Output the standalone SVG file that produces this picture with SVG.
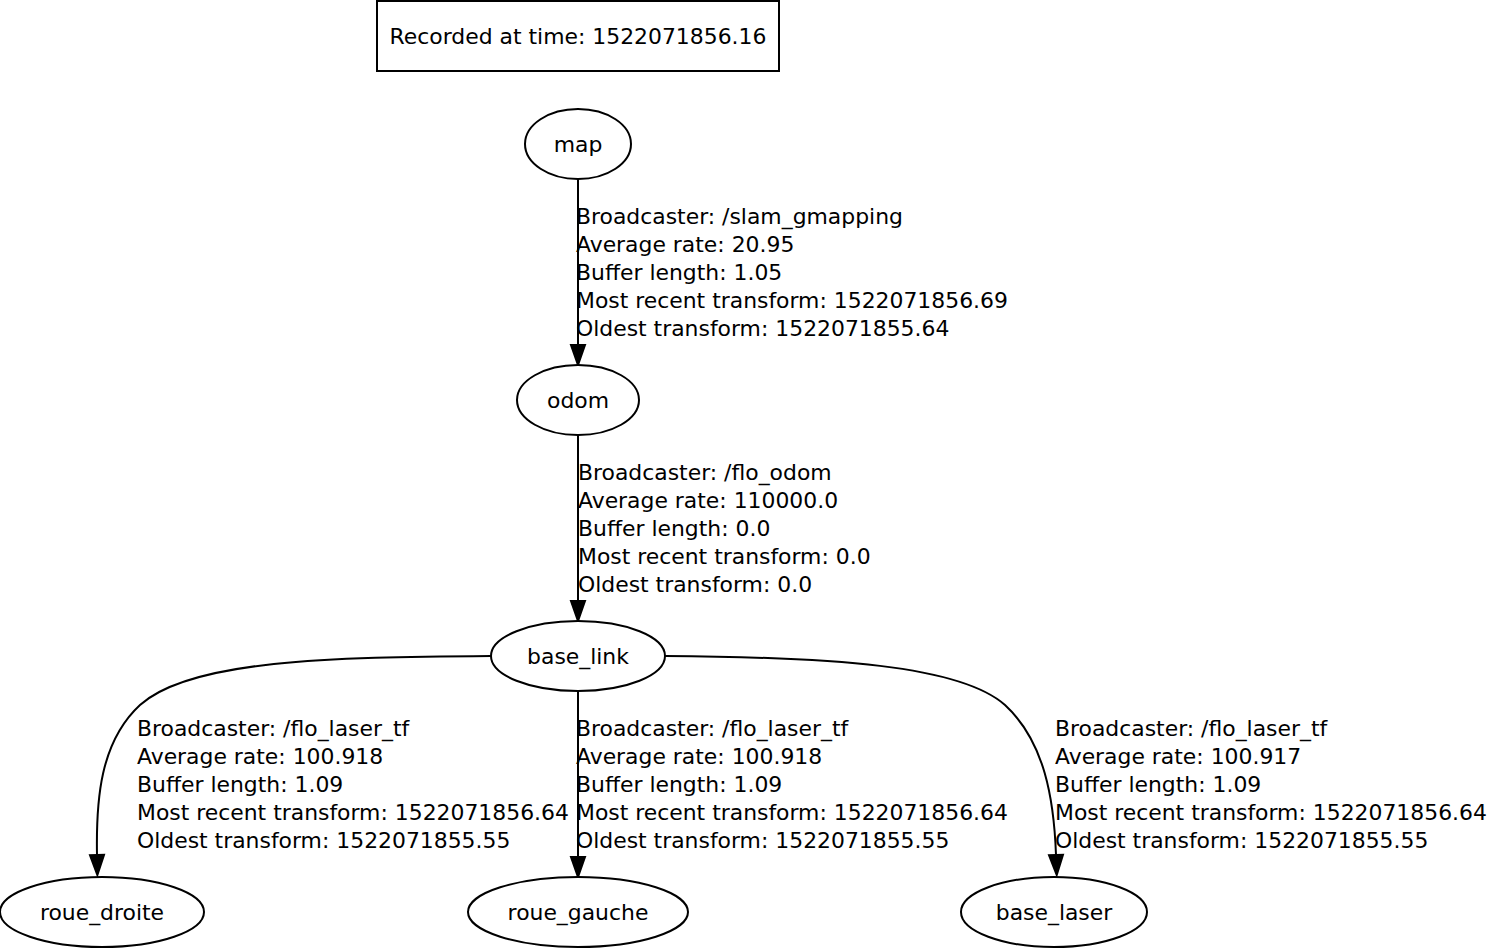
<svg xmlns="http://www.w3.org/2000/svg" width="1491" height="948" viewBox="0 0 1491 948">
<style>
text{font-family:"DejaVu Sans",sans-serif;font-size:21.9px;fill:#000}
.n ellipse,.n rect{fill:#fff;stroke:#000;stroke-width:2}
.n text{text-anchor:middle}
.e path{fill:none;stroke:#000;stroke-width:2}
</style>
<defs>
<marker id="ah" markerUnits="userSpaceOnUse" markerWidth="22" markerHeight="16" refX="0" refY="7" orient="auto" viewBox="0 0 22 16" overflow="visible">
<path d="M0,0 L20,7 L0,14 z" fill="#000" stroke="#000" stroke-width="2"/>
</marker>
</defs>
<rect width="1491" height="948" fill="#fff"/>
<g id="recorded" class="n"><rect x="377" y="1" width="402" height="70"/><text x="578" y="44">Recorded at time: 1522071856.16</text></g>
<g id="connectors" class="e">
<path d="M578,179 L578,345" marker-end="url(#ah)"/>
<path d="M578,435 L578,601" marker-end="url(#ah)"/>
<path d="M578,691 L578,857" marker-end="url(#ah)"/>
<path d="M491,656 C330,657 190,660 140,705 C100,742 96,800 97,855" marker-end="url(#ah)"/>
<path d="M665,656 C830,657 960,665 1005,705 C1045,742 1054,800 1056,855" marker-end="url(#ah)"/>
</g>
<g id="labels">
<text x="576" y="224">Broadcaster: /slam_gmapping</text>
<text x="576" y="252">Average rate: 20.95</text>
<text x="576" y="280">Buffer length: 1.05</text>
<text x="576" y="308">Most recent transform: 1522071856.69</text>
<text x="576" y="336">Oldest transform: 1522071855.64</text>
<text x="578" y="480">Broadcaster: /flo_odom</text>
<text x="578" y="508">Average rate: 110000.0</text>
<text x="578" y="536">Buffer length: 0.0</text>
<text x="578" y="564">Most recent transform: 0.0</text>
<text x="578" y="592">Oldest transform: 0.0</text>
<text x="137" y="736">Broadcaster: /flo_laser_tf</text>
<text x="137" y="764">Average rate: 100.918</text>
<text x="137" y="792">Buffer length: 1.09</text>
<text x="137" y="820">Most recent transform: 1522071856.64</text>
<text x="137" y="848">Oldest transform: 1522071855.55</text>
<text x="576" y="736">Broadcaster: /flo_laser_tf</text>
<text x="576" y="764">Average rate: 100.918</text>
<text x="576" y="792">Buffer length: 1.09</text>
<text x="576" y="820">Most recent transform: 1522071856.64</text>
<text x="576" y="848">Oldest transform: 1522071855.55</text>
<text x="1055" y="736">Broadcaster: /flo_laser_tf</text>
<text x="1055" y="764">Average rate: 100.917</text>
<text x="1055" y="792">Buffer length: 1.09</text>
<text x="1055" y="820">Most recent transform: 1522071856.64</text>
<text x="1055" y="848">Oldest transform: 1522071855.55</text>
</g>
<g id="map" class="n"><ellipse cx="578" cy="144" rx="53" ry="35"/><text x="578" y="152">map</text></g>
<g id="odom" class="n"><ellipse cx="578" cy="400" rx="61" ry="35"/><text x="578" y="408">odom</text></g>
<g id="base_link" class="n"><ellipse cx="578" cy="656" rx="87" ry="35"/><text x="578" y="664">base_link</text></g>
<g id="roue_droite" class="n"><ellipse cx="102" cy="912" rx="102" ry="35"/><text x="102" y="920">roue_droite</text></g>
<g id="roue_gauche" class="n"><ellipse cx="578" cy="912" rx="110" ry="35"/><text x="578" y="920">roue_gauche</text></g>
<g id="base_laser" class="n"><ellipse cx="1054" cy="912" rx="93" ry="35"/><text x="1054" y="920">base_laser</text></g>
</svg>
